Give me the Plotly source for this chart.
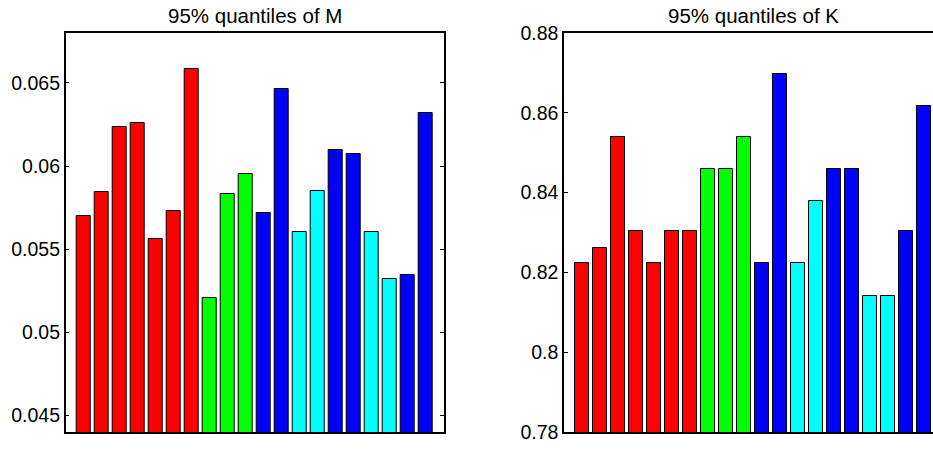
import plotly.graph_objects as go

# 95% quantiles for the 20 model variants, two statistics
positions = list(range(1, 21))
quantile_m = [0.0570, 0.05845, 0.06237, 0.06261, 0.0556, 0.05729, 0.06582,
              0.05207, 0.05829, 0.05952,
              0.05715, 0.06462, 0.05606, 0.05851, 0.06098, 0.06074,
              0.05606, 0.05321, 0.05343, 0.06321]
quantile_k = [0.8223, 0.8261, 0.854, 0.8303, 0.8223, 0.8303, 0.8303,
              0.8459, 0.8459, 0.854,
              0.8223, 0.8697, 0.8223, 0.838, 0.8459, 0.8459,
              0.8142, 0.8142, 0.8303, 0.8617]
group_colors = ["#FF0000"] * 7 + ["#00FF00"] * 3 + \
    ["#0000FF", "#0000FF", "#00FFFF", "#00FFFF", "#0000FF", "#0000FF",
     "#00FFFF", "#00FFFF", "#0000FF", "#0000FF"]

titles = ["95% quantiles of M", "95% quantiles of K"]
m_ticks = [0.045, 0.05, 0.055, 0.06, 0.065]
m_tick_text = ["0.045", "0.05", "0.055", "0.06", "0.065"]
k_ticks = [0.78, 0.80, 0.82, 0.84, 0.86, 0.88]
k_tick_text = ["0.78", "0.8", "0.82", "0.84", "0.86", "0.88"]

FONT = "Liberation Sans, Arial, Helvetica, sans-serif"
W, H = 933, 449
TOP, BOTTOM = 33, 17

fig = go.Figure()
for vals, xa, ya in [(quantile_m, "x", "y"), (quantile_k, "x2", "y2")]:
    fig.add_trace(go.Bar(
        x=positions, y=vals, width=0.8,
        marker=dict(color=group_colors, line=dict(color="black", width=1)),
        xaxis=xa, yaxis=ya, showlegend=False,
    ))

left_dom = [65.7 / W, 444 / W]
right_dom = [564 / W, 1.0]
px_per_unit = (444 - 65.7) / 21
right_range_end = (W - 564) / px_per_unit

x_common = dict(showline=True, linecolor="black", linewidth=1.5,
                showgrid=False, zeroline=False, mirror=True, ticks="",
                showticklabels=False)
y_common = dict(showline=True, linecolor="black", linewidth=1.5,
                showgrid=False, zeroline=False, ticks="inside", ticklen=4,
                tickcolor="black", tickfont=dict(size=19.5))

fig.update_layout(
    width=W, height=H,
    margin=dict(l=0, r=0, t=TOP, b=BOTTOM),
    paper_bgcolor="white", plot_bgcolor="white",
    font=dict(family=FONT, size=19, color="black"),
    bargap=0,
    xaxis=dict(domain=left_dom, range=[0, 21], **x_common),
    yaxis=dict(range=[0.044, 0.068], tickvals=m_ticks, ticktext=m_tick_text,
               mirror="ticks", **y_common),
    xaxis2=dict(domain=right_dom, range=[0, right_range_end], anchor="y2",
                **x_common),
    yaxis2=dict(range=[0.78, 0.88], tickvals=k_ticks, ticktext=k_tick_text,
                anchor="x2", **y_common),
)

plot_h = H - TOP - BOTTOM
title_y = 1 + (TOP - 15) / plot_h
centers = [(65.7 + 444) / 2 / W, (564 + 564 + 21 * px_per_unit) / 2 / W]
for text, cx in zip(titles, centers):
    fig.add_annotation(text=text, x=cx, y=title_y, xref="paper", yref="paper",
                       xanchor="center", yanchor="middle", showarrow=False,
                       font=dict(family=FONT, size=20.5, color="black"))

fig.write_html("out.html")
